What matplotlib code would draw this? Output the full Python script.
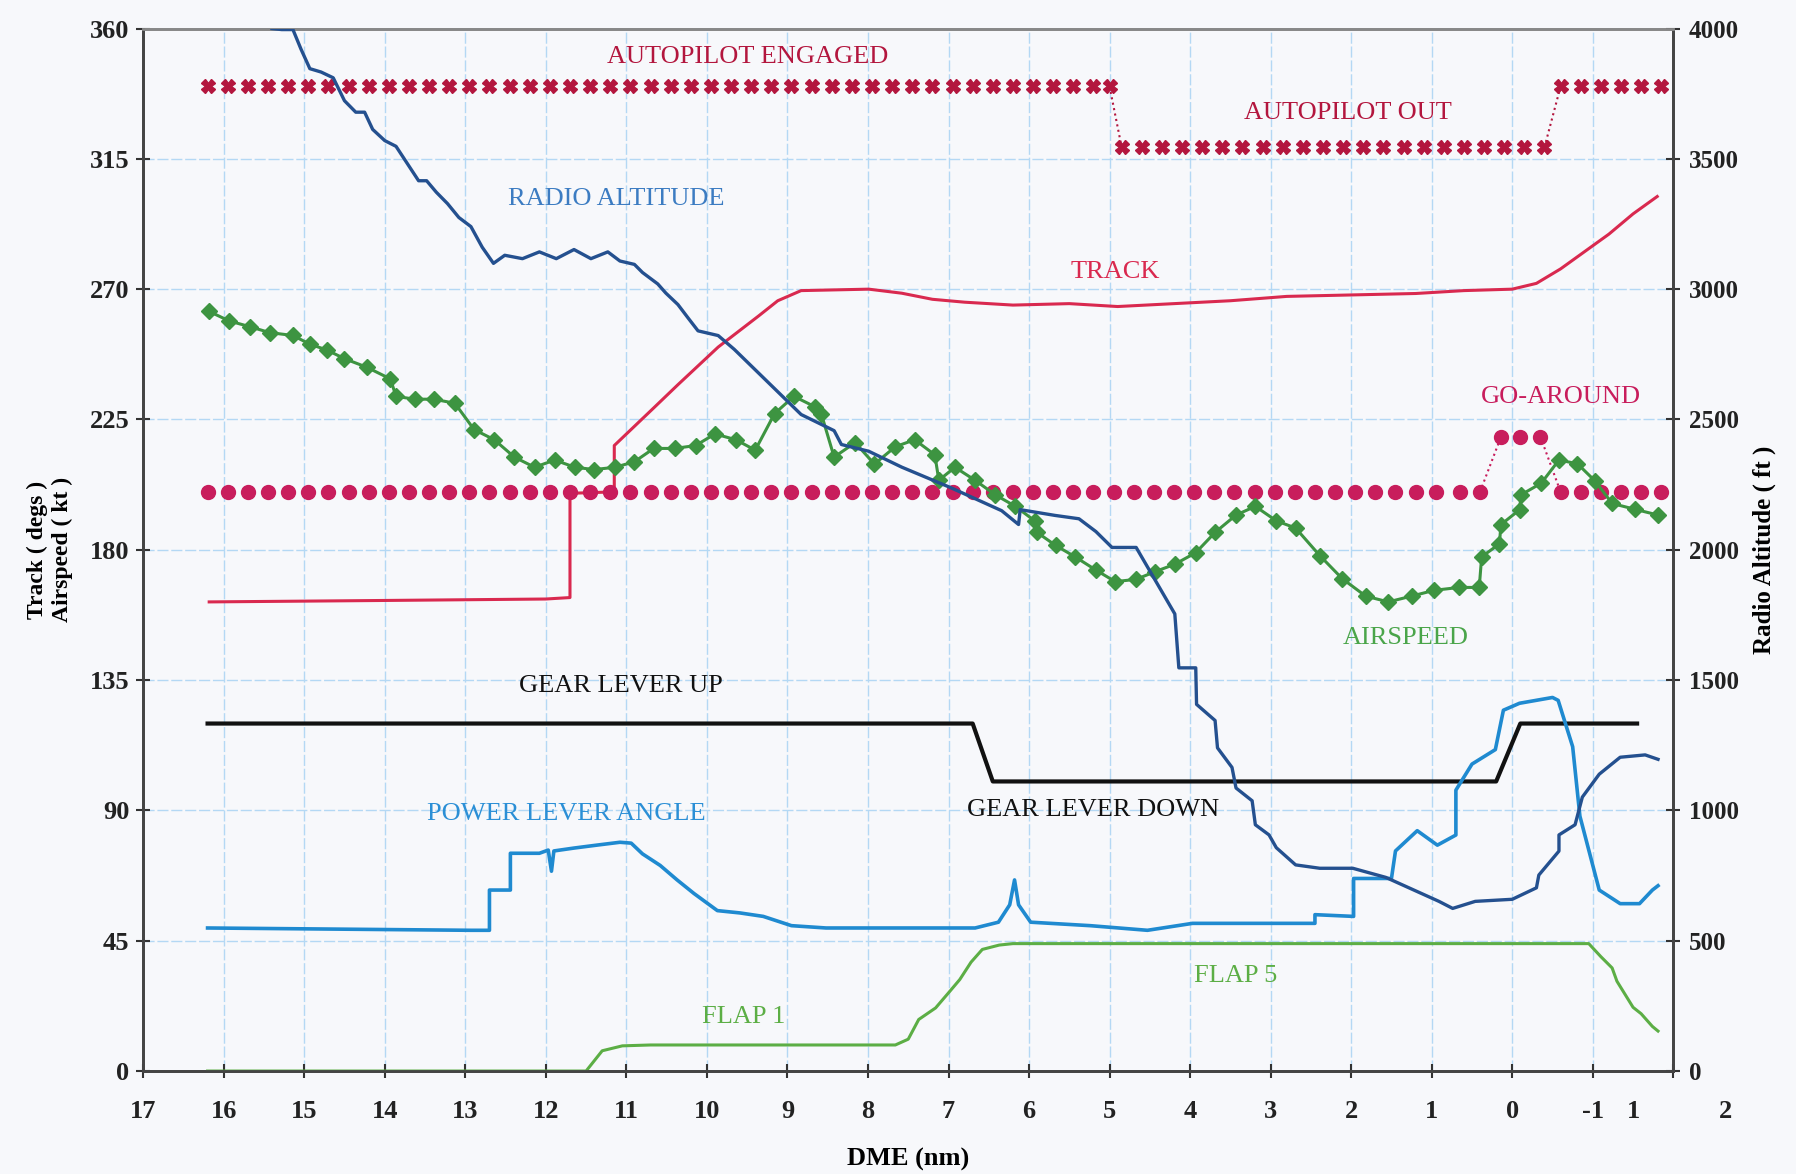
import matplotlib
matplotlib.use('Agg')
import matplotlib.pyplot as plt

plt.rcParams['font.family'] = ['Liberation Serif', 'DejaVu Serif']

# DME (nm) positions and values
ap_engaged_x = [16.2, 15.95, 15.7, 15.45, 15.2, 14.95, 14.7, 14.45, 14.2, 13.95, 13.7, 13.45, 13.2,
                12.95, 12.7, 12.45, 12.2, 11.95, 11.7, 11.45, 11.2, 10.95, 10.7, 10.45, 10.2, 9.95,
                9.7, 9.45, 9.2, 8.95, 8.7, 8.45, 8.2, 7.95, 7.7, 7.45, 7.2, 6.95, 6.7, 6.45, 6.2,
                5.95, 5.7, 5.45, 5.2, 5.0]
ap_out_x = [4.85, 4.6, 4.35, 4.1, 3.85, 3.6, 3.35, 3.1, 2.85, 2.6, 2.35, 2.1, 1.85, 1.6, 1.35,
            1.1, 0.85, 0.6, 0.35, 0.1, -0.15, -0.4]
ap_reengaged_x = [-0.6, -0.85, -1.1, -1.35, -1.6, -1.85]
ap_engaged_val = 340
ap_out_val = 319

ga_off_x = [16.2, 15.95, 15.7, 15.45, 15.2, 14.95, 14.7, 14.45, 14.2, 13.95, 13.7, 13.45, 13.2,
            12.95, 12.7, 12.45, 12.2, 11.95, 11.7, 11.45, 11.2, 10.95, 10.7, 10.45, 10.2, 9.95,
            9.7, 9.45, 9.2, 8.95, 8.7, 8.45, 8.2, 7.95, 7.7, 7.45, 7.2, 6.95, 6.7, 6.45, 6.2,
            5.95, 5.7, 5.45, 5.2, 4.95, 4.7, 4.45, 4.2, 3.95, 3.7, 3.45, 3.2, 2.95, 2.7, 2.45,
            2.2, 1.95, 1.7, 1.45, 1.2, 0.95, 0.65, 0.4]
ga_on_x = [0.14, -0.1, -0.35]
ga_after_x = [-0.6, -0.85, -1.1, -1.35, -1.6, -1.85]
ga_off_val = 200
ga_on_val = 219

track_x = [16.18, 14.0, 12.0, 11.7, 11.7, 11.15, 11.15, 10.66, 10.36, 9.86, 9.36, 9.12, 8.83,
           7.99, 7.58, 7.2, 6.8, 6.2, 5.5, 4.9, 4.2, 3.5, 2.8, 2.0, 1.2, 0.6, 0.0, -0.3, -0.6,
           -0.9, -1.2, -1.5, -1.8]
track_deg = [162, 162.5, 163, 163.5, 199.5, 200, 216, 229, 237, 250, 260.7, 266, 269.5,
             270, 268.6, 266.5, 265.5, 264.5, 265, 264, 265, 266, 267.5, 268, 268.5, 269.5,
             270, 272, 277, 283, 289, 296, 302]

radalt_x = [15.40, 15.28, 15.14, 15.04, 14.93, 14.79, 14.64, 14.50, 14.36, 14.25, 14.15, 14.00,
            13.86, 13.72, 13.58, 13.48, 13.36, 13.22, 13.08, 12.93, 12.79, 12.65, 12.51, 12.29,
            12.08, 11.87, 11.65, 11.44, 11.23, 11.08, 10.90, 10.80, 10.61, 10.51, 10.36, 10.23,
            10.11, 9.86, 9.66, 8.83, 8.42, 8.33, 7.99, 7.58, 6.97, 6.34, 6.13, 6.11, 5.68, 5.38,
            5.17, 4.97, 4.67, 4.19, 4.14, 3.93, 3.92, 3.69, 3.66, 3.48, 3.43, 3.23, 3.19, 3.02,
            2.93, 2.69, 2.39, 1.98, 1.57, 0.91, 0.74, 0.46, 0.0, -0.30, -0.33, -0.58, -0.58,
            -0.78, -0.87, -1.08, -1.34, -1.65, -1.81]
radalt_ft = [4000, 3996, 3996, 3921, 3846, 3833, 3811, 3723, 3679, 3679, 3613, 3570,
             3548, 3482, 3416, 3416, 3372, 3328, 3275, 3240, 3161, 3099, 3130, 3117,
             3143, 3117, 3152, 3117, 3143, 3108, 3095, 3064, 3020, 2985, 2941, 2888,
             2840, 2822, 2769, 2519, 2457, 2404, 2378, 2317, 2238, 2150, 2097, 2154, 2132, 2119,
             2070, 2009, 2009, 1754, 1547, 1547, 1407, 1345, 1240, 1165, 1086, 1037, 945, 906,
             857, 791, 778, 778, 743, 651, 624, 651, 659, 703, 752, 844, 906,
             945, 1051, 1139, 1204, 1213, 1196]

airspeed_x = [16.18, 15.93, 15.67, 15.43, 15.14, 14.93, 14.72, 14.5, 14.22, 13.93, 13.86, 13.63,
              13.39, 13.13, 12.89, 12.64, 12.39, 12.14, 11.89, 11.64, 11.4, 11.14, 10.9, 10.66,
              10.4, 10.14, 9.9, 9.64, 9.4, 9.16, 8.92, 8.66, 8.58, 8.42, 8.16, 7.92, 7.66, 7.42,
              7.17, 7.12, 6.92, 6.67, 6.42, 6.17, 5.93, 5.9, 5.67, 5.43, 5.17, 4.93, 4.67, 4.43,
              4.19, 3.93, 3.69, 3.43, 3.19, 2.93, 2.69, 2.39, 2.11, 1.82, 1.54, 1.25, 0.97, 0.66,
              0.41, 0.38, 0.16, 0.14, -0.09, -0.11, -0.36, -0.58, -0.81, -1.03, -1.24, -1.52, -1.81]
airspeed_kt = [262.3, 259, 257, 255, 254, 251, 249, 246, 243, 239, 233, 232,
               232, 230.6, 221.5, 218, 212, 208.5, 211, 208.5, 207.7, 208.5, 210.4, 215,
               215, 216, 220, 218, 214.4, 227, 233, 229.4, 227, 212, 217, 209.6, 215.6, 218,
               212.8, 204, 208.5, 204, 199, 195, 190, 186, 181.5, 177.6, 173, 169, 169.8, 172.5,
               175, 179, 186, 192, 195, 190, 187.5, 178, 170, 164, 162, 164, 166, 167,
               167, 177.6, 182, 188.7, 193.8, 199, 203, 211, 209.7, 203.7, 196, 194, 192]

gear_x = [16.2, 6.7, 6.45, 0.2, -0.1, -1.55]
gear_deg = [120, 120, 100, 100, 120, 120]

pla_x = [16.2, 12.93, 12.7, 12.7, 12.44, 12.44, 12.08, 11.97, 11.93, 11.9, 11.65, 11.37, 11.08,
         10.94, 10.8, 10.58, 10.37, 10.16, 9.87, 9.59, 9.3, 8.95, 8.52, 6.67, 6.38, 6.24, 6.18,
         6.13, 5.98, 5.24, 4.53, 3.97, 2.45, 2.45, 1.97, 1.97, 1.5, 1.45, 1.18, 0.93, 0.7, 0.7,
         0.5, 0.21, 0.11, -0.09, -0.5, -0.57, -0.75, -0.84, -1.08, -1.34, -1.58, -1.74, -1.81]
pla_deg = [49.4, 48.6, 48.6, 62.5, 62.5, 75.2, 75.2, 76.3, 69, 76, 77, 78, 79,
           78.7, 75, 71, 66, 61.3, 55.4, 54.6, 53.4, 50.2, 49.4, 49.4, 51.4, 57.4, 66,
           57.4, 51.4, 50.2, 48.6, 51, 51, 54, 53.4, 66.5, 66.5, 76, 83, 78, 81.5, 97,
           106, 111, 124.6, 127, 129, 128, 112, 88, 62.5, 57.8, 57.8, 62.5, 64]

flap_x = [16.2, 11.5, 11.3, 11.05, 10.7, 7.66, 7.5, 7.37, 7.16, 7.0, 6.86, 6.72, 6.58, 6.37,
          6.2, -0.95, -1.1, -1.24, -1.3, -1.5, -1.6, -1.74, -1.81]
flap_deg = [0, 0, 7, 8.7, 9, 9, 11, 17.8, 21.8, 27, 31.6, 37.6, 42, 43.5,
            44, 44, 39.5, 35.6, 31, 22, 19.8, 15.4, 13.8]

x_ticks = list(range(17, -3, -1))
x_tick_labels = [str(v) for v in range(17, -2, -1)] + ['']
extra_x_labels = [(-1.5, '1'), (-2.65, '2')]
y_ticks = list(range(0, 361, 45))
y2_ticks = list(range(0, 4001, 500))

fig = plt.figure(figsize=(17.96, 11.74), dpi=100, facecolor='#f7f8fb')
ax = fig.add_axes([0.0797, 0.0877, 0.852, 0.888])
ax.set_facecolor('#f7f8fb')
ax2 = ax.twinx()

ax.set_xlim(17, -2)
ax.set_ylim(0, 360)
ax2.set_ylim(0, 4000)

# grid
for v in x_ticks[1:-1]:
    ax.axvline(v, color='#b4d8f4', lw=1.0, ls=(0, (8, 2)), zorder=0)
for v in y_ticks[1:-1]:
    ax.axhline(v, color='#b4d8f4', lw=1.0, ls=(0, (8, 2)), zorder=0)

# autopilot
ap_col = '#b3163e'
for xs, val in [(ap_engaged_x, ap_engaged_val), (ap_out_x, ap_out_val),
                (ap_reengaged_x, ap_engaged_val)]:
    ax.plot(xs, [val] * len(xs), ls='none', marker='X', ms=10, color=ap_col, mec=ap_col, zorder=4)
ax.plot([ap_engaged_x[-1], ap_out_x[0]], [ap_engaged_val, ap_out_val], ls=':', lw=1.5, color=ap_col)
ax.plot([ap_out_x[-1], ap_reengaged_x[0]], [ap_out_val, ap_engaged_val], ls=':', lw=1.5, color=ap_col)

# go-around
ga_col = '#c81d5c'
for xs, val in [(ga_off_x, ga_off_val), (ga_on_x, ga_on_val), (ga_after_x, ga_off_val)]:
    ax.plot(xs, [val] * len(xs), ls='none', marker='o', ms=10, color=ga_col, zorder=4)
ax.plot([ga_off_x[-1], ga_on_x[0]], [ga_off_val, ga_on_val], ls=':', lw=1.5, color=ga_col)
ax.plot([ga_on_x[-1], ga_after_x[0]], [ga_on_val, ga_off_val], ls=':', lw=1.5, color=ga_col)

# track, airspeed, gear, pla, flap
ax.plot(track_x, track_deg, color='#d9294f', lw=2.2, zorder=3)
ax.plot(airspeed_x, airspeed_kt, color='#3d9441', lw=2.2, marker='D', ms=8.5, zorder=5)
ax.plot(gear_x, gear_deg, color='#111111', lw=3, zorder=3)
ax.plot(pla_x, pla_deg, color='#1f8ad0', lw=2.6, zorder=3)
ax.plot(flap_x, flap_deg, color='#5cae45', lw=2.2, zorder=3)

# radio altitude on right axis
ax2.plot(radalt_x, radalt_ft, color='#24508f', lw=2.4, zorder=3)

# labels on the chart
lab_fs = 19
ax.text(9.49, 350, 'AUTOPILOT ENGAGED', color='#b3163e', fontsize=lab_fs, ha='center', va='center')
ax.text(2.04, 331, 'AUTOPILOT OUT', color='#b3163e', fontsize=lab_fs, ha='center', va='center')
ax.text(11.13, 301, 'RADIO ALTITUDE', color='#3c7cc2', fontsize=lab_fs, ha='center', va='center')
ax.text(4.93, 276, 'TRACK', color='#d9294f', fontsize=lab_fs, ha='center', va='center')
ax.text(-0.6, 232.6, 'GO-AROUND', color='#c81d5c', fontsize=lab_fs, ha='center', va='center')
ax.text(1.32, 149.5, 'AIRSPEED', color='#4aa54a', fontsize=lab_fs, ha='center', va='center')
ax.text(11.07, 133, 'GEAR LEVER UP', color='#111111', fontsize=lab_fs, ha='center', va='center')
ax.text(5.2, 90, 'GEAR LEVER DOWN', color='#111111', fontsize=lab_fs, ha='center', va='center')
ax.text(11.75, 88.6, 'POWER LEVER ANGLE', color='#2b8fd6', fontsize=lab_fs, ha='center', va='center')
ax.text(3.43, 32.8, 'FLAP 5', color='#5cae45', fontsize=lab_fs, ha='center', va='center')
ax.text(9.54, 18.6, 'FLAP 1', color='#5cae45', fontsize=lab_fs, ha='center', va='center')

# axes
tick_fs = 19
x_pad = 16
ax.set_xticks(x_ticks)
ax.set_xticklabels(x_tick_labels, fontsize=tick_fs, fontweight='bold')
ax.set_yticks(y_ticks)
ax.set_yticklabels([str(v) for v in y_ticks], fontsize=tick_fs, fontweight='bold')
ax2.set_yticks(y2_ticks)
ax2.set_yticklabels([str(v) for v in y2_ticks], fontsize=tick_fs - 1, fontweight='bold')
ax.tick_params(axis='x', direction='inout', length=10, width=1.5, colors='#333333', pad=x_pad)
ax.tick_params(axis='y', direction='inout', length=10, width=1.5, colors='#333333', pad=5)
ax2.tick_params(axis='y', direction='inout', length=10, width=1.5, colors='#333333', pad=6)
for t in ax.get_xticklabels() + ax.get_yticklabels() + ax2.get_yticklabels():
    t.set_color('#222222')

for xv, s in extra_x_labels:
    ax.annotate(s, xy=(xv, 0), xycoords=('data', 'axes fraction'), xytext=(0, -(x_pad + 5)),
                textcoords='offset points', fontsize=tick_fs, fontweight='bold',
                ha='center', va='top', color='#222222', annotation_clip=False)

for sp in ['left', 'right', 'bottom']:
    for a in (ax, ax2):
        a.spines[sp].set_color('#444444')
        a.spines[sp].set_linewidth(2)
for a in (ax, ax2):
    a.spines['top'].set_color('#888888')
    a.spines['top'].set_linewidth(2)

ax.set_xlabel('DME (nm)', fontsize=19, fontweight='bold', labelpad=18)
ax.set_ylabel('Track ( degs )\nAirspeed ( kt )', fontsize=17, fontweight='bold', labelpad=12)
ax2.set_ylabel('Radio Altitude ( ft )', fontsize=18, fontweight='bold', labelpad=10)

fig.savefig('out.png', dpi=100, facecolor=fig.get_facecolor())
